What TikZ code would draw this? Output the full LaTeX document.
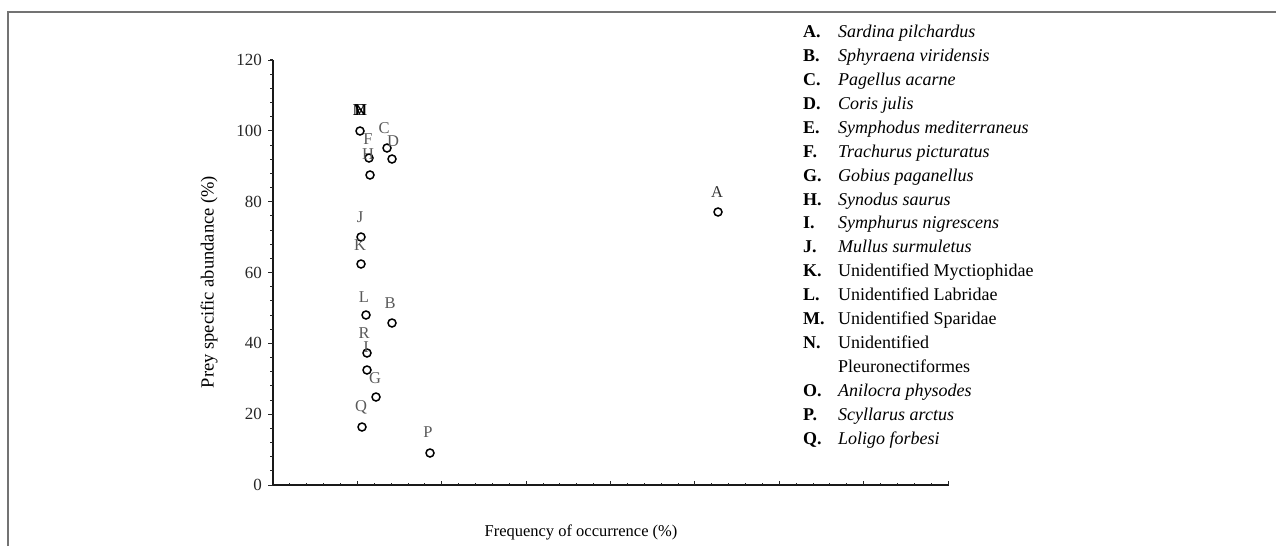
\documentclass[tikz,border=0pt]{standalone}
\usepackage{fontspec}
\setmainfont{Liberation Serif}
\begin{document}
\begin{tikzpicture}[x=1pt,y=-1pt,
  pt/.style={circle,draw=black,line width=1.5pt,minimum size=8pt,inner sep=0pt},
  lab/.style={text=black!65,font=\fontsize{16.5}{16.5}\selectfont,inner sep=0pt},
  ticklab/.style={font=\fontsize{17}{17}\selectfont,anchor=east,inner sep=0pt,text=black!85},
  leglet/.style={font=\fontsize{18}{18}\selectfont\bfseries,anchor=base west,inner sep=0pt},
  legname/.style={font=\fontsize{18}{18}\selectfont\itshape,anchor=base west,inner sep=0pt},
  legup/.style={font=\fontsize{18}{18}\selectfont,anchor=base west,inner sep=0pt},
  axisline/.style={line width=1.8pt,black!90},
  ticko/.style={line width=1pt,black!85},
  framel/.style={draw=black!55,line width=2pt}]
\useasboundingbox (0,0) rectangle (1276,546);
% frame
\coordinate (f1) at (8,546);
\coordinate (f2) at (8,12);
\coordinate (f3) at (1276,12);
\draw[framel] (f1) -- (f2) -- (f3);
% axes
\coordinate (O) at (273,485);
\coordinate (Ytop) at (273,60);
\coordinate (Xend) at (949,485);
\draw[axisline] (Ytop) -- (O) -- (Xend);
\foreach \i in {0,...,30} \draw[ticko] (273,485-\i*14.1667) -- ++(-3,0);
\foreach \i in {0,...,6} \draw[ticko] (273,485-\i*70.833) -- ++(-5,0);
\foreach \i in {1,...,40} \draw[ticko] (273+\i*16.875,485) -- ++(0,-2.5);
\foreach \i in {1,...,8} \draw[ticko] (273+\i*84.375,485) -- ++(0,-4.5);
% tick labels
\foreach \v/\y in {120/60,100/130.8,80/201.7,60/272.5,40/343.3,20/414.2,0/485}
  \node[ticklab] (t\v) at (262,\y) {\v};
% axis titles
\node[rotate=90,font=\fontsize{18.5}{18.5}\selectfont,inner sep=0pt] (ytitle) at (209,282) {Prey specific abundance (\%)};
\node[font=\fontsize{16.5}{16.5}\selectfont,inner sep=0pt] (xtitle) at (581,532) {Frequency of occurrence (\%)};
% data points
\node[pt] (pA) at (718,212) {};
\node[pt] (pB) at (392,323) {};
\node[pt] (pC) at (387,148) {};
\node[pt] (pD) at (392,159) {};
\node[pt] (pM) at (360,131) {};
\node[pt] (pF) at (369,158) {};
\node[pt] (pH) at (370,175) {};
\node[pt] (pJ) at (361,237) {};
\node[pt] (pK) at (361,264) {};
\node[pt] (pL) at (366,315) {};
\node[pt] (pR) at (367,353) {};
\node[pt] (pO) at (367,370) {};
\node[pt] (pG) at (376,397) {};
\node[pt] (pQ) at (362,427) {};
\node[pt] (pP) at (430,453) {};
% point labels
\node[lab,text=black!80] (lA) at (717,192) {A};
\node[lab] (lB) at (390,303) {B};
\node[lab] (lC) at (384,128) {C};
\node[lab] (lD) at (393,141) {D};
\node[lab,text=black] (lM) at (360,110) {M};
\node[lab,text=black] (lN) at (360,110) {N};
\node[lab,text=black] (lE) at (360,110) {E};
\node[lab] (lF) at (368,139) {F};
\node[lab] (lH) at (368,154) {H};
\node[lab] (lJ) at (360,217) {J};
\node[lab] (lK) at (360,245) {K};
\node[lab] (lL) at (364,297) {L};
\node[lab] (lR) at (364,333) {R};
\node[lab] (lI) at (366,347) {I};
\node[lab] (lG) at (375,378) {G};
\node[lab] (lQ) at (361,407) {Q};
\node[lab] (lP) at (428,432) {P};
% legend
\foreach \l/\y/\n in {A/31.7/Sardina pilchardus,B/55.6/Sphyraena viridensis,C/79.5/Pagellus acarne,D/103.4/Coris julis,E/127.3/Symphodus mediterraneus,F/151.2/Trachurus picturatus,G/175.1/Gobius paganellus,H/199/Synodus saurus,I/222.9/Symphurus nigrescens,J/246.8/Mullus surmuletus,O/390.2/Anilocra physodes,P/414.1/Scyllarus arctus,Q/438/Loligo forbesi}
{
  \node[leglet] (let\l) at (803,\y+6) {\l.};
  \node[legname] (nam\l) at (838,\y+6) {\n};
}
\foreach \l/\y/\n in {K/270.7/Unidentified Myctiophidae,L/294.6/Unidentified Labridae,M/318.5/Unidentified Sparidae,N/342.4/Unidentified}
{
  \node[leglet] (let\l) at (803,\y+6) {\l.};
  \node[legup] (nam\l) at (838,\y+6) {\n};
}
\node[legup] (namN2) at (838,366.3+6) {Pleuronectiformes};
\end{tikzpicture}
\end{document}
